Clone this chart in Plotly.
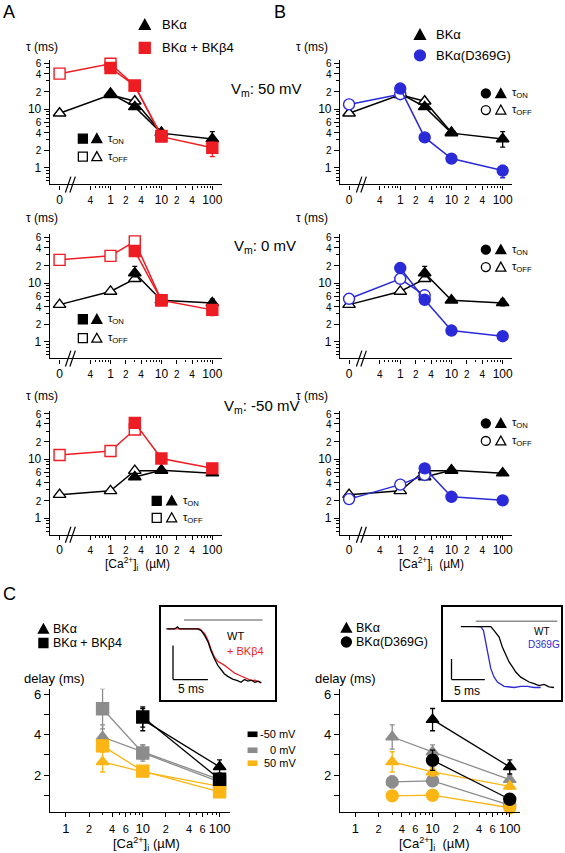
import plotly.graph_objects as go

W, H = 565, 853
def fx(p): return p / W
def fy(p): return 1 - p / H

# ---------------- data: panels A / B (tau, ms) ----------------
ca = [0, 1, 3, 10, 100]          # [Ca2+]i (uM); 0 is drawn at the break position
ZERO_POS = 0.1
ca_pos = [c if c > 0 else ZERO_POS for c in ca]

# BKalpha (WT) - shared between A and B
wt_on_p50 = [None, 18.4, 10.9, 3.9, 3.1]
wt_off_p50 = [8.5, 17.5, 13.6, 4.0, None]
wt_on_p50_eplus = [0, 0, 0, 0.3, 1.05]
wt_on_p50_eminus = [0, 0, 0, 0.3, 0.85]
wt_on_0 = [None, None, 14.8, 5.1, 4.6]
wt_off_0 = [4.3, 7.2, 11.8, None, None]
wt_on_0_eplus = [0, 0, 4.4, 0, 0.7]
wt_on_0_eminus = [0, 0, 2.0, 0, 0.5]
wt_on_m50 = [None, None, 5.0, 6.5, 5.8]
wt_off_m50 = [2.5, 2.9, 6.4, 6.4, None]

# BKalpha + BKbeta4
b4_on_p50 = [None, 50, 25, 3.4, 2.2]
b4_off_p50 = [40, 59, 25, 3.5, None]
b4_on_p50_eplus = [0, 0, 0, 0.3, 0.5]
b4_on_p50_eminus = [0, 0, 0, 0.3, 0.65]
b4_on_0 = [None, None, 35, 5.1, 3.5]
b4_off_0 = [24.8, 29, 51, 5.1, None]
b4_on_0_eplus = [0, 0, 0, 0, 0.6]
b4_on_0_eminus = [0, 0, 0, 0, 0.7]
b4_on_m50 = [None, None, 41.5, 10.3, 7.0]
b4_off_m50 = [11.8, 13.8, 32, None, None]

# BKalpha(D369G)
dg_on_p50 = [None, 22.3, 3.3, 1.44, 0.9]
dg_off_p50 = [12, 17.9, None, None, None]
dg_on_p50_eplus = [0, 0, 0, 0, 0.2]
dg_on_p50_eminus = [0, 0, 0, 0, 0.22]
dg_on_0 = [None, 18, 5.2, 1.56, 1.25]
dg_off_0 = [5.4, 11.8, 6.2, None, None]
dg_on_m50 = [None, None, 7.0, 2.3, 2.0]
dg_off_m50 = [2.1, 3.7, 5.4, None, None]

# tick labels A/B
ab_xticks = [0.1, 0.4, 1, 2, 4, 10, 20, 40, 100]
ab_xlabels = ["0", "4", "1", "2", "4", "10", "2", "4", "100"]
ab_xminor = [0.5, 0.6, 0.7, 0.8, 0.9, 3, 5, 6, 7, 8, 9, 30, 50, 60, 70, 80, 90]
ab_yticks = [1, 2, 4, 6, 10, 20, 40, 60]
ab_ylabels = ["1", "2", "4", "6", "10", "2", "4", "6"]
ab_yminor = [0.6, 0.7, 0.8, 0.9, 3, 5, 7, 8, 9, 30, 50]

# ---------------- data: panel C (delay, ms) ----------------
c_ca = [3, 10, 100]
wt_m50 = [None, 4.75, 2.41]; wt_m50_e = [0, 0.55, 0.35]
wt_0 = [3.89, 3.15, 1.78];   wt_0_e = [0.6, 0.35, 0.2]
wt_50 = [2.66, 2.16, 1.45];  wt_50_e = [0.5, 0.2, 0.15]
b4_m50 = [None, 4.88, 1.8];  b4_m50_e = [0, 0.5, 0.3]
b4_0 = [5.29, 3.1, 1.67];    b4_0_e = [1.0, 0.4, 0.2]
b4_50 = [3.45, 2.2, 1.18];   b4_50_e = [0.3, 0.2, 0.15]
dg_m50 = [None, 2.74, 0.81]; dg_m50_e = [0, 0.5, 0.15]
dg_0 = [1.67, 1.72, 0.52];   dg_0_e = [0.3, 0.25, 0.1]
dg_50 = [0.98, 1.01, 0.39];  dg_50_e = [0.1, 0.1, 0.08]

c_xticks = [1, 2, 4, 6, 10, 20, 40, 60, 100]
c_xlabels = ["1", "2", "4", "6", "10", "2", "4", "6", "100"]
c_xminor = [3, 5, 7, 8, 9, 30, 50, 70, 80, 90]
c_yticks = [1, 2, 3, 4, 5, 6]
c_ylabels = ["", "2", "", "4", "", "6"]

# ---------------- data: inset traces (ms, normalised current) ----------------
insL_t_wt = [0.8, 2.0, 2.4, 2.7, 3.0, 4.0, 5.3, 5.8, 6.3, 6.8, 7.2, 7.7, 8.2, 8.7, 9.1, 9.6,
             10.3, 11.0, 11.5, 12.0, 12.5, 13.0, 13.5, 14.0, 14.4]
insL_wt = [1.0, 1.0, 1.04, 1.0, 1.0, 1.0, 1.0, 0.97, 0.875, 0.75, 0.59, 0.44, 0.31, 0.23, 0.16, 0.11,
           0.06, 0.03, 0.0, 0.05, 0.02, 0.04, 0.0, 0.02, -0.01]
insL_t_b4 = [1.0, 5.6, 6.3, 6.8, 7.2, 7.7, 8.2, 8.7, 9.0, 9.4, 10.1, 10.6, 11.1, 11.6, 12.0, 12.5,
             13.0, 13.5, 14.0, 14.4]
insL_b4 = [1.0, 1.0, 0.91, 0.78, 0.625, 0.47, 0.39, 0.36, 0.33, 0.29, 0.22, 0.17, 0.14, 0.11, 0.08,
           0.06, 0.03, 0.04, 0.01, -0.01]
insR_t_wt = [2.75, 5.0, 7.25, 7.75, 8.5, 9.0, 9.5, 10.0, 10.5, 11.0, 11.75, 12.5, 13.0, 13.75,
             14.5, 15.25, 16.0, 16.75]
insR_wt = [1.0, 1.0, 1.0, 0.935, 0.83, 0.66, 0.53, 0.42, 0.34, 0.255, 0.17, 0.12, 0.09, 0.065,
           0.03, 0.05, 0.01, 0.0]
insR_t_dg = [5.0, 5.75, 6.15, 6.5, 6.85, 7.25, 7.75, 8.25, 9.25, 10.75, 11.75, 12.75, 13.75, 14.75]
insR_dg = [1.0, 1.0, 0.935, 0.72, 0.5, 0.31, 0.17, 0.09, 0.02, 0.0, 0.02, 0.02, 0.0, 0.0]

RED = "#ee1d23"
BLUE = "#2a2ad8"
GRAY = "#8c8c8c"
YEL = "#fbb616"
FONT = "Liberation Sans, Arial, sans-serif"

fig = go.Figure()
shapes = []
anns = []

def small(t, s):
    return f'<span style="font-size:{s}px">{t}</span>'

def add_ann(text, x, y, size=12, color="black", xanchor="center", yanchor="middle"):
    anns.append(dict(text=text, x=fx(x), y=fy(y), xref="paper", yref="paper",
                     showarrow=False, xanchor=xanchor, yanchor=yanchor,
                     font=dict(size=size, color=color, family=FONT)))

def mshape(kind, cx, cy, s, color, filled=True, lw=1.3):
    fill = color if filled else "white"
    if kind == "square":
        shapes.append(dict(type="rect", xref="paper", yref="paper",
                           x0=fx(cx - s / 2), x1=fx(cx + s / 2), y0=fy(cy + s / 2), y1=fy(cy - s / 2),
                           fillcolor=fill, line=dict(color=color, width=lw)))
    elif kind == "circle":
        shapes.append(dict(type="circle", xref="paper", yref="paper",
                           x0=fx(cx - s / 2), x1=fx(cx + s / 2), y0=fy(cy + s / 2), y1=fy(cy - s / 2),
                           fillcolor=fill, line=dict(color=color, width=lw)))
    else:
        pts = [(cx, cy - s * 0.5), (cx - s * 0.5, cy + s * 0.4), (cx + s * 0.5, cy + s * 0.4)]
        path = "M " + " L ".join(f"{fx(a)},{fy(b)}" for a, b in pts) + " Z"
        shapes.append(dict(type="path", xref="paper", yref="paper", path=path,
                           fillcolor=fill, line=dict(color=color, width=lw)))

def pline(x0, y0, x1, y1, color="black", w=1.3):
    shapes.append(dict(type="line", xref="paper", yref="paper", x0=fx(x0), y0=fy(y0),
                       x1=fx(x1), y1=fy(y1), line=dict(color=color, width=w)))

def series(ax, x, y, color, symbol, filled, size, ep=None, em=None, lw=1.5):
    err = None
    if ep is not None:
        err = dict(type="data", array=ep, arrayminus=em if em is not None else ep,
                   color=color, thickness=1.3, width=2.5, symmetric=em is None)
    fig.add_trace(go.Scatter(
        x=x, y=y, mode="lines+markers", xaxis="x" + ax, yaxis="y" + ax,
        line=dict(color=color, width=lw),
        marker=dict(symbol=symbol, size=size, color=color if filled else "white",
                    line=dict(color=color, width=1.4)),
        error_y=err, showlegend=False, hoverinfo="skip", cliponaxis=False))

axis_base = dict(showline=True, linecolor="black", linewidth=1.4, ticks="outside",
                 tickcolor="black", tickwidth=1.2, showgrid=False, zeroline=False,
                 tickfont=dict(family=FONT, size=12, color="black"))

layout = dict(width=W, height=H, autosize=False, margin=dict(l=0, r=0, t=0, b=0),
              paper_bgcolor="white", plot_bgcolor="rgba(0,0,0,0)")

# A/B panel geometry
colx = {"A": (50, 222.7, [-1.19, 2.196]), "B": (340.7, 513.3, [-1.175, 2.19])}
rowy = [(58.6, 182.8), (233, 357.2), (409.6, 533.8)]
ab_xtext = [small(t, 10) if t in ("2", "4") else t for t in ab_xlabels]
ab_ytext = [small(t, 10) if t in ("2", "4", "6") else t for t in ab_ylabels]

ax_id = {}
n = 1
for r in range(3):
    for c in ("A", "B"):
        x0, x1, xr = colx[c]
        y0, y1 = rowy[r]
        sfx = "" if n == 1 else str(n)
        layout["xaxis" + sfx] = dict(axis_base, domain=[fx(x0), fx(x1)], anchor="y" + sfx,
                                     type="log", range=xr, tickmode="array", tickvals=ab_xticks,
                                     ticktext=ab_xtext, ticklen=4,
                                     minor=dict(tickvals=ab_xminor, ticks="outside", ticklen=2.5,
                                                tickcolor="black", tickwidth=1))
        layout["yaxis" + sfx] = dict(axis_base, domain=[fy(y1), fy(y0)], anchor="x" + sfx,
                                     type="log", range=[-0.28, 1.826], tickmode="array",
                                     tickvals=ab_yticks, ticktext=ab_ytext, ticklen=5,
                                     minor=dict(tickvals=ab_yminor, ticks="outside", ticklen=3,
                                                tickcolor="black", tickwidth=1))
        ax_id[(r, c)] = "" if n == 1 else str(n)
        n += 1

# A/B traces
rows = [
    (wt_on_p50, wt_off_p50, wt_on_p50_eplus, wt_on_p50_eminus,
     b4_on_p50, b4_off_p50, b4_on_p50_eplus, b4_on_p50_eminus,
     dg_on_p50, dg_off_p50, dg_on_p50_eplus, dg_on_p50_eminus),
    (wt_on_0, wt_off_0, wt_on_0_eplus, wt_on_0_eminus,
     b4_on_0, b4_off_0, b4_on_0_eplus, b4_on_0_eminus,
     dg_on_0, dg_off_0, None, None),
    (wt_on_m50, wt_off_m50, None, None,
     b4_on_m50, b4_off_m50, None, None,
     dg_on_m50, dg_off_m50, None, None),
]
for r, (won, woff, wep, wem, bon, boff, bep, bem, don, doff, dep, dem) in enumerate(rows):
    a = ax_id[(r, "A")]
    series(a, ca_pos, woff, "black", "triangle-up", False, 11)
    series(a, ca_pos, won, "black", "triangle-up", True, 11, wep, wem)
    series(a, ca_pos, boff, RED, "square", False, 11)
    series(a, ca_pos, bon, RED, "square", True, 11, bep, bem)
    b = ax_id[(r, "B")]
    series(b, ca_pos, woff, "black", "triangle-up", False, 11)
    series(b, ca_pos, won, "black", "triangle-up", True, 11, wep, wem)
    series(b, ca_pos, doff, BLUE, "circle", False, 11)
    series(b, ca_pos, don, BLUE, "circle", True, 11, dep, dem)

# C axes
c_xtext = [small(t, 11) if t in ("2", "4", "6") else t for t in c_xlabels]
for sfx, (x0, x1, xr) in (("7", (50, 230, [-0.208, 2.13])), ("8", (340.7, 520.7, [-0.198, 2.13]))):
    layout["xaxis" + sfx] = dict(axis_base, domain=[fx(x0), fx(x1)], anchor="y" + sfx, type="log",
                                 range=xr, tickmode="array", tickvals=c_xticks, ticktext=c_xtext,
                                 ticklen=4, tickfont=dict(family=FONT, size=13, color="black"),
                                 minor=dict(tickvals=c_xminor, ticks="outside", ticklen=2.5,
                                            tickcolor="black", tickwidth=1))
    layout["yaxis" + sfx] = dict(axis_base, domain=[fy(811.7), fy(688.3)], anchor="x" + sfx,
                                 range=[0.19, 6.28], tickmode="array", tickvals=c_yticks,
                                 ticktext=c_ylabels, ticklen=5,
                                 tickfont=dict(family=FONT, size=13, color="black"))

for col, (w, we), (b, be) in ((GRAY, (wt_0, wt_0_e), (b4_0, b4_0_e)),
                              (YEL, (wt_50, wt_50_e), (b4_50, b4_50_e)),
                              ("black", (wt_m50, wt_m50_e), (b4_m50, b4_m50_e))):
    series("7", c_ca, w, col, "triangle-up", True, 11, we, None, lw=1.3)
    series("7", c_ca, b, col, "square", True, 12, be, None, lw=1.3)
for col, (w, we), (d, de) in ((GRAY, (wt_0, wt_0_e), (dg_0, dg_0_e)),
                              (YEL, (wt_50, wt_50_e), (dg_50, dg_50_e)),
                              ("black", (wt_m50, wt_m50_e), (dg_m50, dg_m50_e))):
    series("8", c_ca, w, col, "triangle-up", True, 11, we, None, lw=1.3)
    series("8", c_ca, d, col, "circle", True, 12, de, None, lw=1.3)

# insets
inset_axis = dict(showline=True, mirror=True, linecolor="black", linewidth=1.6, ticks="",
                  showticklabels=False, showgrid=False, zeroline=False)
layout["xaxis9"] = dict(inset_axis, domain=[fx(161), fx(275)], anchor="y9", range=[0, 16.3])
layout["yaxis9"] = dict(inset_axis, domain=[fy(700), fy(606)], anchor="x9", range=[-0.34, 1.42])
layout["xaxis10"] = dict(inset_axis, domain=[fx(443.3), fx(561.7)], anchor="y10", range=[0, 17.75])
layout["yaxis10"] = dict(inset_axis, domain=[fy(699.3), fy(606)], anchor="x10", range=[-0.2, 1.33])

def trace_line(ax, t, v, color):
    fig.add_trace(go.Scatter(x=t, y=v, mode="lines", xaxis="x" + ax, yaxis="y" + ax,
                             line=dict(color=color, width=1.3), showlegend=False, hoverinfo="skip"))

trace_line("9", insL_t_b4, insL_b4, RED)
trace_line("9", insL_t_wt, insL_wt, "black")
trace_line("10", insR_t_dg, insR_dg, BLUE)
trace_line("10", insR_t_wt, insR_wt, "black")

def dline(ax, x0, y0, x1, y1, color="black", w=1.3):
    shapes.append(dict(type="line", xref="x" + ax, yref="y" + ax, x0=x0, y0=y0, x1=x1, y1=y1,
                       line=dict(color=color, width=w)))

# stimulus bars & scale bars
dline("9", 3.33, 1.17, 14.6, 1.17, GRAY, 1.5)
dline("9", 1.76, 0.05, 1.76, 0.69)
dline("9", 1.76, 0.05, 6.76, 0.05)
dline("10", 5.0, 1.087, 17.25, 1.087, GRAY, 1.5)
dline("10", 1.35, 0.13, 1.35, 0.47)
dline("10", 1.35, 0.13, 6.35, 0.13)

def dann(ax, text, x, y, size=11, color="black"):
    anns.append(dict(text=text, x=x, y=y, xref="x" + ax, yref="y" + ax, showarrow=False,
                     font=dict(size=size, color=color, family=FONT)))

dann("9", "5 ms", 4.3, -0.13, 12)
dann("9", "WT", 10.7, 0.86, 11)
dann("9", "+ BKβ4", 12.2, 0.58, 11, RED)
dann("10", "5 ms", 3.75, -0.05, 12)
dann("10", "WT", 15.0, 0.92, 10)
dann("10", "D369G", 15.2, 0.70, 10, BLUE)

# break marks
for cx in (70.5, 362):
    for cy in (183.0, 357.4, 534.0):
        pline(cx - 5, cy + 8, cx + 0.5, cy - 8, w=1.2)
        pline(cx - 0.5, cy + 8, cx + 5, cy - 8, w=1.2)

# panel letters
add_ann("A", 1, 10, 18, xanchor="left")
add_ann("B", 272, 10, 18, xanchor="left")
add_ann("C", 1, 593, 18, xanchor="left")

# top legends
mshape("triangle", 145, 23, 11, "black")
add_ann("BKα", 160, 23, 13, xanchor="left")
mshape("square", 145, 46, 11, RED)
add_ann("BKα + BKβ4", 160, 46, 13, xanchor="left")
mshape("triangle", 420.7, 33, 11, "black")
add_ann("BKα", 435, 33, 13, xanchor="left")
mshape("circle", 420.7, 53.5, 11, BLUE)
add_ann("BKα(D369G)", 435, 53.5, 13, xanchor="left")

# tau labels, Vm labels
for y in (45, 216.7, 395):
    add_ann("τ (ms)", 42, y, 12)
    add_ann("τ (ms)", 313, y, 12)
add_ann("V<sub>m</sub>: 50 mV", 229, 88, 15, xanchor="left")
add_ann("V<sub>m</sub>: 0 mV", 232, 245, 15, xanchor="left")
add_ann("V<sub>m</sub>: -50 mV", 222, 405, 15, xanchor="left")

# tau ON/OFF legends
def tau_legend(x_a, x_b, x_t, y1, y2, kind):
    mshape(kind, x_a, y1, 9, "black", True)
    mshape("triangle", x_b, y1, 10, "black", True)
    add_ann("τ<sub>ON</sub>", x_t, y1, 11, xanchor="left")
    mshape(kind, x_a, y2, 9, "black", False)
    mshape("triangle", x_b, y2, 10, "black", False)
    add_ann("τ<sub>OFF</sub>", x_t, y2, 11, xanchor="left")

tau_legend(83, 97, 106, 137, 155, "square")
tau_legend(83, 97, 106, 318, 337, "square")
tau_legend(157, 172, 181, 500, 517, "square")
tau_legend(486.7, 501.7, 511, 91.7, 108.3, "circle")
tau_legend(486.7, 501.7, 511, 248.3, 265.7, "circle")
tau_legend(486.7, 501.7, 511, 422.3, 440, "circle")

# x titles
ca_title = "[Ca<sup>2+</sup>]<sub>i</sub>  (µM)"
add_ann(ca_title, 138, 563, 12)
add_ann(ca_title, 432, 563, 12)
add_ann("[Ca<sup>2+</sup>]<sub>i</sub> (µM)", 147, 844, 13)
add_ann(ca_title, 435, 844, 13)

# C labels and legends
add_ann("delay (ms)", 55, 678, 13)
add_ann("delay (ms)", 346, 678, 13)
mshape("triangle", 43.5, 628.5, 10, "black")
add_ann("BKα", 51, 628.5, 12.5, xanchor="left")
mshape("square", 43.5, 642.5, 9, "black")
add_ann("BKα + BKβ4", 51, 642.5, 12.5, xanchor="left")
mshape("triangle", 347, 627.5, 10, "black")
add_ann("BKα", 355, 627.5, 12.5, xanchor="left")
mshape("circle", 347, 641.5, 10, "black")
add_ann("BKα(D369G)", 355, 641.5, 12.5, xanchor="left")

for y, col, lab in ((734, "black", "-50 mV"), (750, GRAY, "0 mV"), (763, YEL, "50 mV")):
    shapes.append(dict(type="rect", xref="paper", yref="paper", x0=fx(248), x1=fx(258),
                       y0=fy(y + 2.8), y1=fy(y - 2.8), fillcolor=col, line=dict(width=0)))
    add_ann(lab, 299, y, 11, xanchor="right")

layout["shapes"] = shapes
layout["annotations"] = anns
fig.update_layout(**layout)
fig.write_html("out.html", config={"displayModeBar": False},
               post_script="document.body.style.margin='0';")
